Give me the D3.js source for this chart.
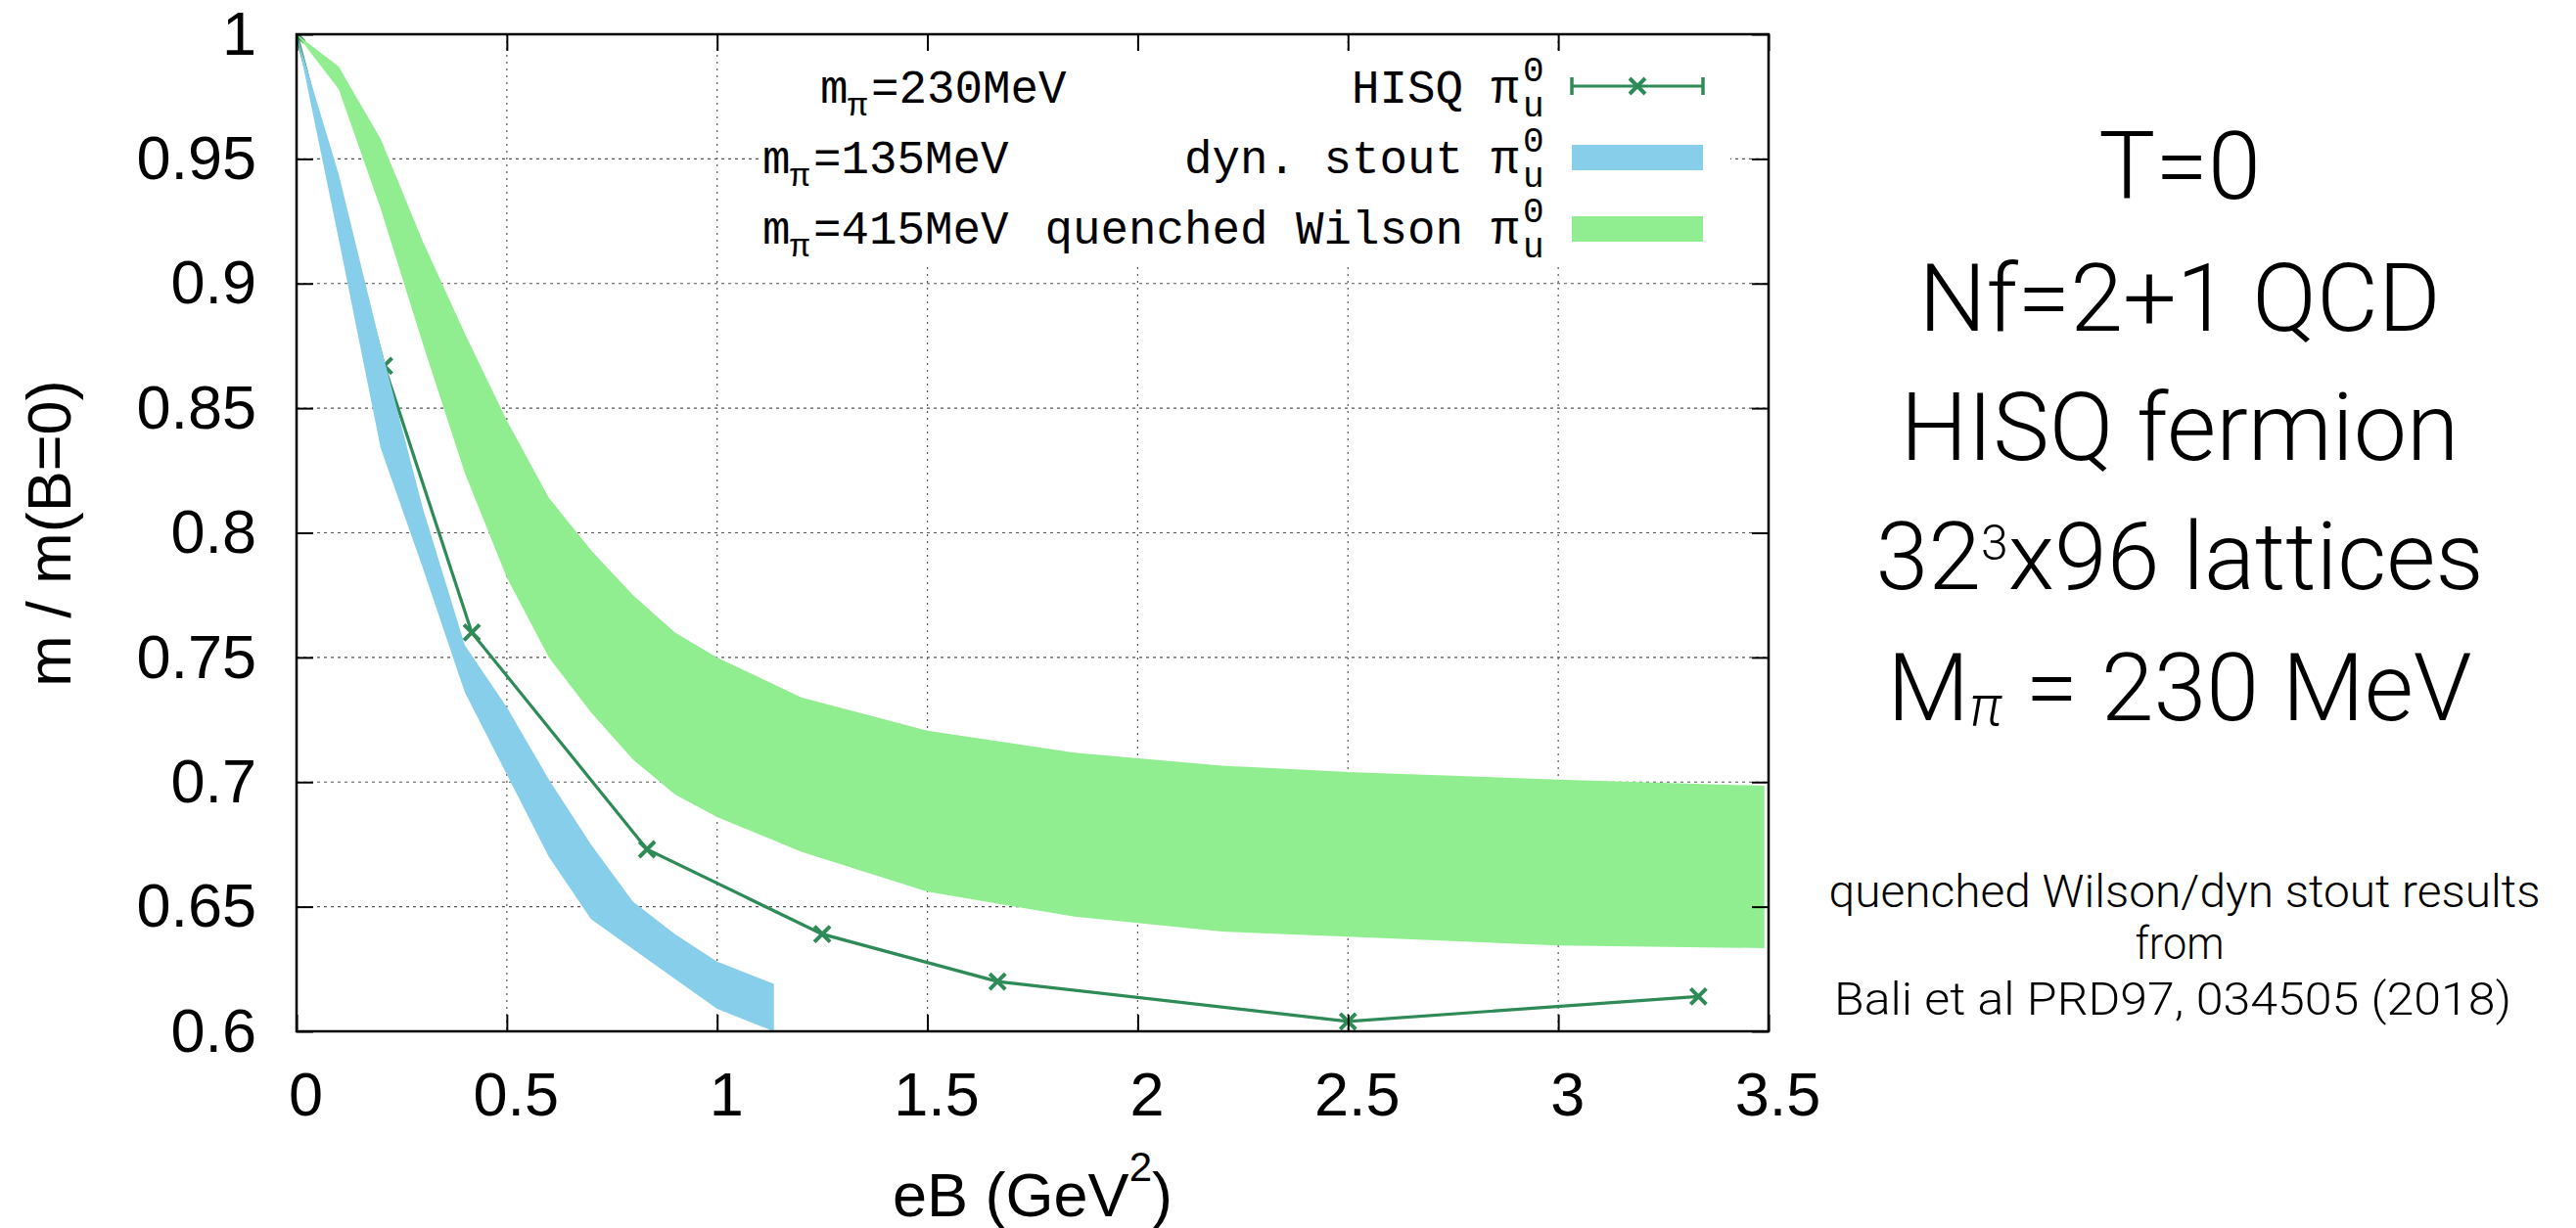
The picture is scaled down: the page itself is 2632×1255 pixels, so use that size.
<!DOCTYPE html>
<html><head><meta charset="utf-8">
<script src="https://cdn.jsdelivr.net/npm/d3@7"></script>
<style>html,body{margin:0;padding:0;background:#fff;} svg{display:block;}</style>
</head><body>
<script>
// ---- data ----
const xTicks = [0, 0.5, 1, 1.5, 2, 2.5, 3, 3.5];
const yTicks = [0.6, 0.65, 0.7, 0.75, 0.8, 0.85, 0.9, 0.95, 1];

// HISQ pi_u^0, m_pi = 230 MeV
const eB_hisq = [0, 0.2083, 0.4167, 0.8333, 1.25, 1.6667, 2.5, 3.3333];
const m_hisq  = [1, 0.867, 0.760, 0.673, 0.639, 0.620, 0.604, 0.614];

// dyn. stout pi_u^0, m_pi = 135 MeV (band)
const eB_stout = [0, 0.1, 0.2, 0.3, 0.4, 0.5, 0.6, 0.7, 0.8, 0.9, 1.0, 1.135];
const stout_lo = [1, 0.918, 0.834, 0.786, 0.736, 0.703, 0.670, 0.645, 0.633, 0.621, 0.609, 0.600];
const stout_hi = [1, 0.944, 0.875, 0.810, 0.755, 0.730, 0.701, 0.675, 0.652, 0.639, 0.628, 0.619];

// quenched Wilson pi_u^0, m_pi = 415 MeV (band)
const eB_wilson = [0, 0.1, 0.2, 0.3, 0.4, 0.5, 0.6, 0.7, 0.8, 0.9, 1.0, 1.2, 1.5, 1.85, 2.2, 2.5, 3.0, 3.49];
const wilson_lo = [1, 0.978, 0.930, 0.876, 0.824, 0.782, 0.750, 0.728, 0.709, 0.695, 0.686, 0.672, 0.656, 0.646, 0.640, 0.638, 0.6344, 0.6334];
const wilson_hi = [1, 0.987, 0.958, 0.917, 0.880, 0.845, 0.814, 0.793, 0.775, 0.760, 0.750, 0.734, 0.7206, 0.7118, 0.7066, 0.704, 0.701, 0.6985];

const legendMass = ["230MeV", "135MeV", "415MeV"];
const legendName = ["HISQ π", "dyn. stout π", "quenched Wilson π"];

const C_HISQ = "#2e8b57", C_STOUT = "#87ceeb", C_WILSON = "#90ee90";

// ---- chart ----
const svg = d3.select("body").append("svg").attr("width", 2632).attr("height", 1255);
const x = d3.scaleLinear().domain([0, 3.5]).range([303, 1807]);
const y = d3.scaleLinear().domain([0.6, 1]).range([1054, 35]);
const fmt = d => String(+d.toFixed(2));

svg.append("defs").append("clipPath").attr("id", "clip")
  .append("rect").attr("x", x(0)).attr("y", y(1)).attr("width", x(3.5) - x(0)).attr("height", y(0.6) - y(1));

// grid
const grid = svg.append("g");
grid.selectAll("line.h").data(yTicks.slice(1, -1)).join("line")
  .attr("x1", x(0)).attr("x2", x(3.5)).attr("y1", d => y(d)).attr("y2", d => y(d))
  .attr("stroke", "#555").attr("stroke-width", 1.2).attr("stroke-dasharray", "3,4");
grid.selectAll("line.v").data(xTicks.slice(1, -1)).join("line")
  .attr("y1", y(1)).attr("y2", y(0.6)).attr("x1", d => x(d)).attr("x2", d => x(d))
  .attr("stroke", "#555").attr("stroke-width", 1.2).attr("stroke-dasharray", "2,5");

const plot = svg.append("g").attr("clip-path", "url(#clip)");

// HISQ line (drawn first, bands on top)
const hisq = eB_hisq.map((e, i) => ({e, m: m_hisq[i]}));
plot.append("path").datum(hisq)
  .attr("d", d3.line().x(d => x(d.e)).y(d => y(d.m)))
  .attr("fill", "none").attr("stroke", C_HISQ).attr("stroke-width", 3.2);
const xMark = "M-8,-8L8,8M-8,8L8,-8";
plot.selectAll("path.mk").data(hisq).join("path")
  .attr("transform", d => `translate(${x(d.e)},${y(d.m)})`)
  .attr("d", xMark).attr("stroke", C_HISQ).attr("stroke-width", 4).attr("fill", "none");

const area = d3.area().x(d => x(d.e)).y0(d => y(d.lo)).y1(d => y(d.hi));
const stout = eB_stout.map((e, i) => ({e, lo: stout_lo[i], hi: stout_hi[i]}));
const wilson = eB_wilson.map((e, i) => ({e, lo: wilson_lo[i], hi: wilson_hi[i]}));
plot.append("path").datum(stout).attr("d", area).attr("fill", C_STOUT);
plot.append("path").datum(wilson).attr("d", area).attr("fill", C_WILSON);

// legend (white box)
svg.append("rect").attr("x", 776).attr("y", 53).attr("width", 1768 - 776).attr("height", 270 - 53).attr("fill", "#fff");
const lg = svg.append("g").attr("font-family", "'Liberation Mono', 'DejaVu Sans Mono', monospace").attr("fill", "#000");
const rowsY = [105, 177, 249];
const massX = [838, 779, 779];
rowsY.forEach((by, i) => {
  const t = lg.append("text").attr("y", by).attr("font-size", 47.5);
  t.append("tspan").attr("x", massX[i]).text("m");
  t.append("tspan").attr("x", massX[i] + 28).attr("y", by + 13).attr("font-size", 34).text("π");
  t.append("tspan").attr("x", massX[i] + 52).attr("y", by).text("=" + legendMass[i]);
  lg.append("text").attr("x", 1552).attr("y", by).attr("font-size", 47.5).attr("text-anchor", "end").text(legendName[i]);
  lg.append("text").attr("x", 1556).attr("y", by - 22).attr("font-size", 36).text("0");
  lg.append("text").attr("x", 1556).attr("y", by + 14).attr("font-size", 36).text("u");
});
// legend samples
const ly = 88;
lg.append("line").attr("x1", 1606).attr("x2", 1740).attr("y1", ly).attr("y2", ly).attr("stroke", C_HISQ).attr("stroke-width", 3.2);
[1606, 1740].forEach(cx => lg.append("line").attr("x1", cx).attr("x2", cx).attr("y1", ly - 9).attr("y2", ly + 9).attr("stroke", C_HISQ).attr("stroke-width", 3.5));
lg.append("path").attr("transform", `translate(1673,${ly})`).attr("d", xMark).attr("stroke", C_HISQ).attr("stroke-width", 4).attr("fill", "none");
lg.append("rect").attr("x", 1606).attr("y", 148).attr("width", 134).attr("height", 26).attr("fill", C_STOUT);
lg.append("rect").attr("x", 1606).attr("y", 221).attr("width", 134).attr("height", 26).attr("fill", C_WILSON);

// axes (inward ticks, mirrored)
function styleAxis(g) {
  g.select(".domain").remove();
  g.attr("font-family", "'Liberation Sans', Arial, sans-serif").attr("font-size", 63);
  g.selectAll(".tick line").attr("stroke", "#000").attr("stroke-width", 2);
  g.selectAll(".tick text").attr("fill", "#000");
}
svg.append("g").attr("transform", `translate(${x(0)},0)`)
  .call(d3.axisLeft(y).tickValues(yTicks).tickSize(-17).tickPadding(41).tickFormat(fmt)).call(styleAxis);
svg.append("g").attr("transform", `translate(0,${y(0.6)})`)
  .call(d3.axisBottom(x).tickValues(xTicks).tickSize(-17).tickPadding(41).tickFormat(fmt)).call(styleAxis)
  .selectAll(".tick text").attr("dx", 9);
svg.append("g").attr("transform", `translate(${x(3.5)},0)`)
  .call(d3.axisRight(y).tickValues(yTicks).tickSize(-17).tickFormat("")).call(styleAxis);
svg.append("g").attr("transform", `translate(0,${y(1)})`)
  .call(d3.axisTop(x).tickValues(xTicks).tickSize(-17).tickFormat("")).call(styleAxis);

// border
svg.append("rect").attr("x", x(0)).attr("y", y(1)).attr("width", x(3.5) - x(0)).attr("height", y(0.6) - y(1))
  .attr("fill", "none").attr("stroke", "#000").attr("stroke-width", 2.5);

// axis titles
const xl = svg.append("text").attr("x", 1055).attr("y", 1243).attr("text-anchor", "middle")
  .attr("font-family", "'Liberation Sans', Arial, sans-serif").attr("font-size", 63);
xl.append("tspan").text("eB (GeV");
xl.append("tspan").attr("dy", -36).attr("font-size", 42).text("2");
xl.append("tspan").attr("dy", 36).text(")");
svg.append("text").attr("transform", "translate(72,545) rotate(-90)").attr("text-anchor", "middle")
  .attr("font-family", "'Liberation Sans', Arial, sans-serif").attr("font-size", 63).text("m / m(B=0)");

// annotation
const ann = svg.append("g").attr("font-family", "Roboto, 'Liberation Sans', sans-serif").attr("font-weight", 300)
  .attr("font-size", 97).attr("text-anchor", "middle").attr("fill", "#000");
ann.append("text").attr("x", 2227).attr("y", 203).text("T=0");
ann.append("text").attr("x", 2227).attr("y", 338).text("Nf=2+1 QCD");
ann.append("text").attr("x", 2227).attr("y", 470).text("HISQ fermion");
const l4 = ann.append("text").attr("x", 2227).attr("y", 602);
l4.append("tspan").text("32");
l4.append("tspan").attr("dy", -30).attr("font-size", 50).text("3");
l4.append("tspan").attr("dy", 30).text("x96 lattices");
const l5 = ann.append("text").attr("x", 2227).attr("y", 736);
l5.append("tspan").text("M");
l5.append("tspan").attr("dy", 5).attr("font-size", 58).attr("font-style", "italic").text("π");
l5.append("tspan").attr("dy", -5).text(" = 230 MeV");

const ref = svg.append("g").attr("font-family", "Roboto, 'Liberation Sans', sans-serif").attr("font-weight", 300)
  .attr("font-size", 46).attr("text-anchor", "middle").attr("fill", "#000");
ref.append("text").attr("x", 2232).attr("y", 927).attr("textLength", 727).attr("lengthAdjust", "spacingAndGlyphs").text("quenched Wilson/dyn stout results");
ref.append("text").attr("x", 2227).attr("y", 980).attr("textLength", 91).attr("lengthAdjust", "spacingAndGlyphs").text("from");
ref.append("text").attr("x", 2220).attr("y", 1037).attr("textLength", 692).attr("lengthAdjust", "spacingAndGlyphs").text("Bali et al PRD97, 034505 (2018)");
</script>
</body></html>
